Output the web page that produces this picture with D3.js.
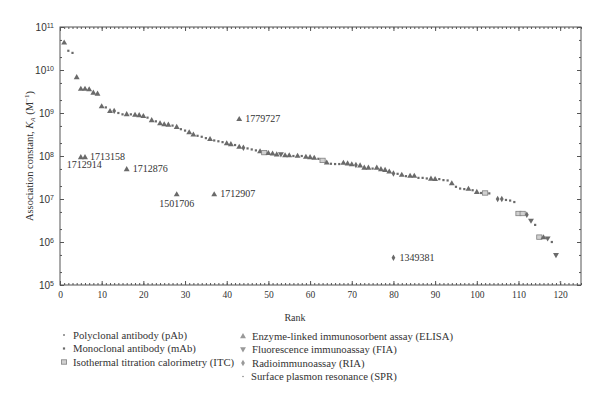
<!DOCTYPE html>
<html><head><meta charset="utf-8">
<script src="https://cdn.jsdelivr.net/npm/d3@7"></script>
<style>
body{margin:0;background:#fff;}
svg{display:block;font-family:"Liberation Serif","Times New Roman",serif;}
</style></head>
<body>
<svg id="chart" width="600" height="403"></svg>
<script>
// Main ranked series
const ranks = d3.range(1, 104).concat(d3.range(105, 121));
const kaValues = [
 4.4e10,2.8e10,2.5e10,6.9e9,3.7e9,3.7e9,3.6e9,3.0e9,2.85e9,1.45e9,
 1.35e9,1.12e9,1.12e9,1.0e9,9.3e8,9.5e8,9.3e8,9.2e8,9.0e8,8.6e8,
 7.8e8,6.9e8,6.4e8,5.8e8,5.5e8,5.4e8,5.1e8,4.8e8,4.2e8,3.9e8,
 3.6e8,3.2e8,2.95e8,2.8e8,2.6e8,2.5e8,2.3e8,2.2e8,2.1e8,2.0e8,
 1.9e8,1.8e8,1.65e8,1.55e8,1.5e8,1.42e8,1.35e8,1.3e8,1.2e8,1.18e8,
 1.15e8,1.1e8,1.08e8,1.05e8,1.05e8,1.0e8,1.02e8,1.0e8,9.7e7,9.5e7,
 9.2e7,8.6e7,7.9e7,7.1e7,6.6e7,6.5e7,6.5e7,7.0e7,6.8e7,6.5e7,
 6.2e7,6.1e7,5.4e7,5.4e7,5.1e7,5.4e7,5.0e7,4.8e7,4.4e7,3.9e7,
 3.85e7,3.7e7,3.4e7,3.5e7,3.5e7,3.1e7,3.1e7,3.0e7,3.0e7,2.95e7,
 2.9e7,2.75e7,2.7e7,2.35e7,1.92e7,1.75e7,1.7e7,1.75e7,1.6e7,1.48e7,
 1.38e7,1.38e7,1.35e7,
 1.0e7,1.0e7,9.5e6,9.2e6,8.5e6,4.6e6,4.6e6,4.3e6,3.1e6,2.5e6,
 1.3e6,1.3e6,1.2e6,1.0e6,4.9e5,1.17e5];
// T = ELISA, F = FIA, D = RIA, I = ITC, S = mAb/pAb square, P = SPR
const methods = [
 "T","S","S","T","T","T","T","T","T","T",
 "S","T","D","S","S","T","S","T","T","T",
 "S","T","S","T","T","T","S","T","S","S",
 "T","T","S","S","S","T","S","S","S","T",
 "T","S","T","D","S","S","S","T","I","T",
 "T","T","F","T","T","S","T","S","T","T",
 "T","S","I","T","S","S","S","T","T","T",
 "D","T","T","T","S","T","T","T","T","D",
 "S","T","S","T","T","S","S","S","T","T",
 "S","S","S","T","S","S","S","T","S","T",
 "S","I","S",
 "D","D","S","S","S","I","I","D","F","S",
 "I","T","F","S","F","P"];

// Outliers with labels
const outRanks = [5, 6, 16, 28, 37, 43, 80];
const outValues = [9.5e7, 9.5e7, 5.0e7, 1.3e7, 1.3e7, 7.3e8, 4.3e5];
const outMethods = ["T","T","T","T","T","T","D"];
const outLabels = ["1712914","1713158","1712876","1501706","1712907","1779727","1349381"];

const xTicks = d3.range(0, 121, 10);
const yTicks = [1e5,1e6,1e7,1e8,1e9,1e10,1e11];

const legendLeft = ["Polyclonal antibody (pAb)","Monoclonal antibody (mAb)","Isothermal titration calorimetry (ITC)"];
const legendLeftSym = ["p","S","I"];
const legendRight = ["Enzyme-linked immunosorbent assay (ELISA)","Fluorescence immunoassay (FIA)","Radioimmunoassay (RIA)","Surface plasmon resonance (SPR)"];
const legendRightSym = ["To","Fo","Do","P"];

const svg = d3.select("#chart");
const L = 60, R = 581, T = 27, B = 285;
const x = d3.scaleLinear().domain([0,125]).range([L,R]);
const y = d3.scaleLog().domain([1e5,1e11]).range([B,T]);
const axisCol = "#555", textCol = "#333", markCol = "#6a6a6a";

// frame
svg.append("rect").attr("x",L).attr("y",T).attr("width",R-L).attr("height",B-T)
  .attr("fill","none").attr("stroke",axisCol).attr("stroke-width",1);

// x axes
const minorX = d3.range(0,126,1);
function xAxis(g, bottom){
  const mk = bottom ? d3.axisBottom : d3.axisTop;
  g.append("g").call(mk(x).tickValues(minorX).tickSize(-2).tickFormat(""));
  const maj = g.append("g").call(mk(x).tickValues(xTicks).tickSize(-4).tickPadding(6).tickFormat(bottom? d3.format("d"): ""));
  g.selectAll(".domain").remove();
  g.selectAll("line").attr("stroke",axisCol);
  maj.selectAll("text").attr("fill",textCol).style("font-size","9.5px").style("font-family","Liberation Serif, serif");
}
xAxis(svg.append("g").attr("transform",`translate(0,${B})`), true);
xAxis(svg.append("g").attr("transform",`translate(0,${T})`), false);

// y axes
const minorY = [];
for (let e=5;e<11;e++){ minorY.push(2*Math.pow(10,e), 5*Math.pow(10,e)); }
function yAxis(g, left){
  const mk = left ? d3.axisLeft : d3.axisRight;
  g.append("g").call(mk(y).tickValues(minorY).tickSize(-2).tickFormat(""));
  const maj = g.append("g").call(mk(y).tickValues(yTicks).tickSize(-4).tickPadding(8).tickFormat(""));
  g.selectAll(".domain").remove();
  g.selectAll("line").attr("stroke",axisCol);
  if (left){
    maj.selectAll(".tick").append("text")
      .attr("x",-6).attr("dy","0.35em").attr("text-anchor","end").attr("fill",textCol)
      .style("font-size","10px")
      .each(function(d){
        const t = d3.select(this);
        t.append("tspan").text("10");
        t.append("tspan").attr("dy","-0.45em").style("font-size","7px").text(Math.round(Math.log10(d)));
      });
  }
}
yAxis(svg.append("g").attr("transform",`translate(${L},0)`), true);
yAxis(svg.append("g").attr("transform",`translate(${R},0)`), false);

// axis titles
svg.append("text").attr("x",295).attr("y",321).attr("text-anchor","middle")
  .attr("fill",textCol).style("font-size","10px").text("Rank");
const yl = svg.append("text").attr("transform",`translate(33,${(T+B)/2}) rotate(-90)`)
  .attr("text-anchor","middle").attr("fill",textCol).style("font-size","10.5px");
yl.append("tspan").text("Association constant, ");
yl.append("tspan").style("font-style","italic").text("K");
yl.append("tspan").attr("dy","2").style("font-size","7px").style("font-style","italic").text("A");
yl.append("tspan").attr("dy","-2").text(" (M");
yl.append("tspan").attr("dy","-4").style("font-size","7px").text("−1");
yl.append("tspan").attr("dy","4").text(")");

// marker drawing
function drawMarker(g, type, cx, cy){
  if (type==="T" || type==="To"){
    g.append("path").attr("d", d3.symbol(d3.symbolTriangle, 15)())
      .attr("transform",`translate(${cx},${cy+0.5})`)
      .attr("fill", type==="To" ? "#999" : markCol);
  } else if (type==="F" || type==="Fo"){
    g.append("path").attr("d", d3.symbol(d3.symbolTriangle, 15)())
      .attr("transform",`translate(${cx},${cy-0.5}) rotate(180)`).attr("fill", type==="Fo" ? "#999" : markCol);
  } else if (type==="D" || type==="Do"){
    g.append("path").attr("d", d3.symbol(d3.symbolDiamond, 12)())
      .attr("transform",`translate(${cx},${cy})`).attr("fill", type==="Do" ? "#999" : markCol);
  } else if (type==="I"){
    g.append("rect").attr("x",cx-2.6).attr("y",cy-2.2).attr("width",5.2).attr("height",4.4)
      .attr("fill","#d0d0d0").attr("stroke","#808080").attr("stroke-width",0.8);
  } else if (type==="S"){
    g.append("rect").attr("x",cx-1.1).attr("y",cy-1.1).attr("width",2.2).attr("height",2.2).attr("fill",markCol);
  } else if (type==="p"){
    g.append("rect").attr("x",cx-0.8).attr("y",cy-0.8).attr("width",1.6).attr("height",1.6).attr("fill",markCol);
  } else if (type==="P"){
    g.append("circle").attr("cx",cx).attr("cy",cy).attr("r",0.8).attr("fill","#888");
  }
}

const pts = svg.append("g");
ranks.forEach((r,i)=> drawMarker(pts, methods[i], x(r), y(kaValues[i])));
outRanks.forEach((r,i)=> drawMarker(pts, outMethods[i], x(r), y(outValues[i])));

// outlier labels
const labelPos = {
  "1712914": [-14, 11, "start"],
  "1713158": [5, 3, "start"],
  "1712876": [6, 3, "start"],
  "1501706": [0, 13, "middle"],
  "1712907": [6, 3, "start"],
  "1779727": [6, 3, "start"],
  "1349381": [6, 3, "start"]
};
outLabels.forEach((lab,i)=>{
  const p = labelPos[lab];
  svg.append("text").attr("x", x(outRanks[i]) + p[0]).attr("y", y(outValues[i]) + p[1])
    .attr("text-anchor", p[2]).attr("fill",textCol).style("font-size","10px").text(lab);
});

// legend
const lg = svg.append("g").style("font-size","10.7px");
legendLeft.forEach((t,i)=>{
  const yy = 335 + i*13.5;
  drawMarker(lg, legendLeftSym[i], 64, yy);
  lg.append("text").attr("x",73).attr("y",yy+3.5).attr("fill",textCol).text(t);
});
legendRight.forEach((t,i)=>{
  const yy = 336 + i*13.5;
  drawMarker(lg, legendRightSym[i], 243, yy);
  lg.append("text").attr("x", i===3 ? 251 : 252).attr("y",yy+3.5).attr("fill",textCol).text(t);
});
</script>
</body></html>
